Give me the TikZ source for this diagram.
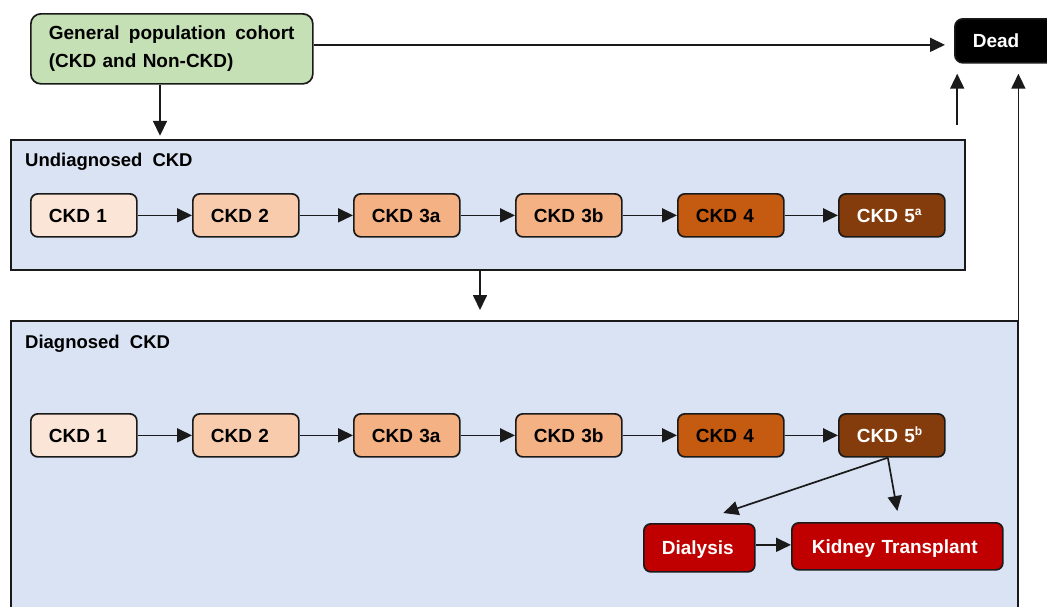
\documentclass[tikz,border=0pt]{standalone}
\usepackage{fontspec}
\setmainfont{Liberation Sans}
\usetikzlibrary{arrows.meta,calc}
\definecolor{cgreen}{HTML}{C5E0B4}
\definecolor{cblue}{HTML}{DAE3F3}
\definecolor{ckdA}{HTML}{FBE5D6}
\definecolor{ckdB}{HTML}{F8CBAD}
\definecolor{ckdC}{HTML}{F4B183}
\definecolor{ckdD}{HTML}{C55A11}
\definecolor{ckdE}{HTML}{843C0C}
\definecolor{cred}{HTML}{C00000}
\definecolor{cline}{HTML}{1A1A1A}
\newcommand{\supl}[1]{\raisebox{7pt}{\fontsize{12}{12}\selectfont #1}}
\tikzset{
  box/.style={draw=cline, line width=1.7pt, rounded corners=7pt, anchor=north west,
    inner xsep=18pt, inner ysep=0pt, align=left, font=\fontsize{19}{28}\selectfont\bfseries},
  oneline/.style={text height=14pt, text depth=0pt},
  ckd/.style={box, oneline, minimum height=43pt, text width=70pt},
  group/.style={draw=cline, line width=1.8pt, fill=cblue},
  title/.style={anchor=base west, inner sep=0pt, font=\fontsize{18.5}{22}\selectfont\bfseries},
  arr/.style={draw=cline, line width=1.7pt, -{Triangle[length=15pt,width=14pt]}},
}
\begin{document}
\begin{tikzpicture}[x=1pt,y=-1pt]
\useasboundingbox (0,0) rectangle (1047,606);
\fill[white] (0,0) rectangle (1047,606);
% group boxes
\draw[group] (11,140) rectangle (965,270);
\node[inner sep=0pt] (Undiag) at (488,205) [minimum width=954pt, minimum height=130pt] {};
\draw[group] (11,321) rectangle (1018,640);
\node[inner sep=0pt, anchor=north west] (Diag) at (11,321) [minimum width=1007pt, minimum height=319pt] {};
\node[title] (T1) at (25,166) {Undiagnosed\hspace{5pt} CKD};
\node[title] (T2) at (25,348) {Diagnosed\hspace{5pt} CKD};
% top boxes
\node[box, fill=cgreen, minimum height=70pt, text width=246pt, rounded corners=10pt] (Gen) at (30,13) {General\hspace{3pt} population\hspace{3pt} cohort\\(CKD and Non-CKD)};
\node[box, oneline, fill=black, text=white, minimum height=44pt, text width=70pt, rounded corners=8pt] (Dead) at (954,18) {Dead};
% row 1
\node[ckd, fill=ckdA] (U1) at (30,193) {CKD 1};
\node[ckd, fill=ckdB] (U2) at (192,193) {CKD 2};
\node[ckd, fill=ckdC] (U3) at (353,193) {CKD 3a};
\node[ckd, fill=ckdC] (U4) at (515,193) {CKD 3b};
\node[ckd, fill=ckdD] (U5) at (677,193) {CKD 4};
\node[ckd, fill=ckdE, text=white] (U6) at (838,193) {CKD 5\supl{a}};
% row 2
\node[ckd, fill=ckdA] (D1) at (30,413) {CKD 1};
\node[ckd, fill=ckdB] (D2) at (192,413) {CKD 2};
\node[ckd, fill=ckdC] (D3) at (353,413) {CKD 3a};
\node[ckd, fill=ckdC] (D4) at (515,413) {CKD 3b};
\node[ckd, fill=ckdD] (D5) at (677,413) {CKD 4};
\node[ckd, fill=ckdE, text=white] (D6) at (838,413) {CKD 5\supl{b}};
% treatment
\node[box, oneline, fill=cred, text=white, minimum height=48pt, text width=75pt] (Dial) at (643,523) {Dialysis};
\node[box, oneline, fill=cred, text=white, minimum height=47pt, text width=171pt, inner xsep=20pt] (KT) at (791,522) {Kidney Transplant};
% connectors
\foreach \a/\b in {U1/U2,U2/U3,U3/U4,U4/U5,U5/U6,D1/D2,D2/D3,D3/D4,D4/D5,D5/D6}
  \draw[arr] (\a.east) -- (\b.west);
\draw[arr, shorten >=9pt] ([yshift=4pt]Gen.east) -- ([yshift=4pt]Gen.east -| Dead.west);
\draw[arr] ([xshift=130pt]Gen.south west) -- ([xshift=130pt,yshift=4pt]Gen.south west |- Undiag.north);
\draw[arr] ([xshift=-8pt,yshift=15pt]Undiag.north east) -- ([xshift=-8pt,yshift=-10pt]Undiag.north east |- Dead.south);
\draw[arr] (Diag.north east) -- ([yshift=-10pt]Diag.north east |- Dead.south);
\draw[arr] ([xshift=-8pt]Undiag.south) -- ([xshift=-8pt,yshift=11pt]Undiag.south |- Diag.north);
\draw[arr] ([xshift=-4pt]D6.south) -- ([xshift=24pt,yshift=10pt]Dial.north);
\draw[arr] ([xshift=-4pt]D6.south) -- ([yshift=11pt]KT.north);
\draw[arr] ([yshift=3pt]Dial.east) -- ([yshift=3pt]Dial.east -| KT.west);
\end{tikzpicture}
\end{document}
